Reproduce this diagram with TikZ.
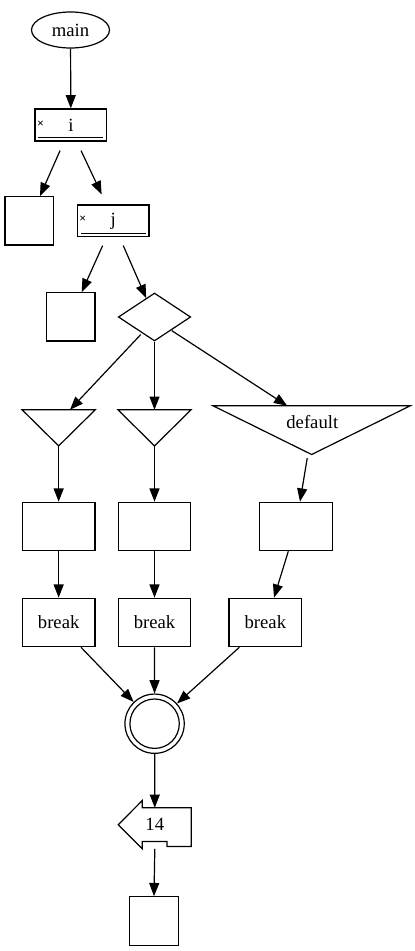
\documentclass[tikz,border=0pt]{standalone}
\usepackage{fontspec}
\setmainfont{Liberation Serif}
\usetikzlibrary{arrows.meta,shapes.geometric}
\tikzset{
  kante/.style={-{Triangle[length=13.3pt,width=10pt]},line width=1.2pt},
  kasten/.style={draw,rectangle,line width=1.2pt,inner sep=0pt,minimum width=72.7pt,minimum height=48.4pt},
  quadrat/.style={kasten,minimum width=48.3pt,minimum height=48.3pt},
  schleife/.style={kasten,minimum width=71.7pt,minimum height=32pt},
  raute/.style={draw,diamond,line width=1.2pt,inner sep=0pt,minimum width=72.4pt,minimum height=48pt},
  leer/.style={rectangle,inner sep=0pt,minimum width=72.7pt,minimum height=35.7pt},
  linie/.style={line width=1.2pt,line join=miter},
  marke/.style={font=\fontsize{12}{12}\selectfont\bfseries,inner sep=0pt},
}

\begin{document}
\begin{tikzpicture}[x=1pt,y=-1pt,font=\fontsize{18.67}{22.4}\selectfont]
  \useasboundingbox (0,0) rectangle (415,951);
  \node[draw,ellipse,line width=1.2pt,inner sep=0pt,minimum width=78pt,minimum height=36pt] (main) at (70.5,30) {main};
  \node[schleife] (i) at (70.85,125) {i};
  \node[marke] (ix) at (40.5,124) {×};
  \draw[linie] ([shift={(3.3pt,4.3pt)}]i.south west) -- ([shift={(-4pt,4.3pt)}]i.south east);
  \node[quadrat] (b1) at (29.2,220.85) {};
  \node[schleife,minimum height=31.7pt] (j) at (113.15,220.85) {j};
  \node[marke] (jx) at (82.8,219) {×};
  \draw[linie] ([shift={(4.4pt,4pt)}]j.south west) -- ([shift={(-3.3pt,4pt)}]j.south east);
  \node[quadrat] (b2) at (70.8,316.85) {};
  \node[raute] (d) at (154.5,317) {};
  \node[leer] (t1) at (58.65,427.85) {};
  \node[leer] (t2) at (154.5,427.85) {};
  \node[leer,minimum width=196.7pt,minimum height=48.3pt] (t3) at (311.65,430.15) {};
  \foreach \t in {t1,t2,t3}
    \draw[linie] (\t.north west) -- (\t.north east) -- (\t.south) -- cycle;
  \node[inner sep=0pt] (t3txt) at (312.3,422.3) {default};
  \node[kasten] (r1) at (58.65,526.5) {};
  \node[kasten] (r2) at (154.5,526.5) {};
  \node[kasten] (r3) at (296.15,526.5) {};
  \node[kasten] (k1) at (58.65,622.5) {break};
  \node[kasten] (k2) at (154.5,622.5) {break};
  \node[kasten] (k3) at (265.35,622.5) {break};
  \node[draw,circle,line width=1.2pt,inner sep=0pt,minimum size=59.3pt] (c) at (154.6,723.7) {};
  \draw[linie] (c.center) circle[radius=24.7];
  \node[rectangle,inner sep=0pt,minimum width=72.6pt,minimum height=48pt] (p) at (154.8,824.7) {14};
  \draw[linie] (p.west) -- ([xshift=24pt]p.north west) -- ([shift={(24pt,-7.3pt)}]p.north west)
    -- ([yshift=-7.3pt]p.north east) -- ([yshift=2.4pt]p.south east) -- ([shift={(-24.3pt,2.4pt)}]p.south east)
    -- ([shift={(-24.3pt,7.4pt)}]p.south east) -- ([shift={(24pt,7.4pt)}]p.south west)
    -- ([xshift=24pt]p.south west) -- cycle;
  \node[quadrat] (e) at (154,921) {};

  \draw[kante] (main) -- (i);
  \draw[kante] ([shift={(-10.8pt,-9pt)}]i.south) -- ([xshift=10.8pt]b1.north);
  \draw[kante] ([shift={(10.2pt,-9pt)}]i.south) -- ([shift={(-11.5pt,10pt)}]j.north);
  \draw[kante] ([shift={(-10.5pt,-8.3pt)}]j.south) -- ([xshift=10.9pt]b2.north);
  \draw[kante] ([shift={(10.1pt,-8.3pt)}]j.south) -- (d);
  \draw[kante] ([shift={(-13.8pt,7pt)}]d.south) -- ([xshift=11.3pt]t1.north);
  \draw[kante] (d.south) -- (t2.north);
  \draw[kante] ([shift={(17.2pt,11pt)}]d.south) -- ([xshift=-24.4pt]t3.north);
  \draw[kante] (t1.south) -- (r1.north);
  \draw[kante] (t2.south) -- (r2.north);
  \draw[kante] ([shift={(-4.4pt,-3.5pt)}]t3.south) -- ([xshift=3.85pt]r3.north);
  \draw[kante] (r1) -- (k1);
  \draw[kante] (r2) -- (k2);
  \draw[kante] ([xshift=-7.85pt]r3.south) -- ([xshift=8.65pt]k3.north);
  \draw[kante] ([xshift=22.35pt]k1.south) -- (c);
  \draw[kante] (k2) -- (c);
  \draw[kante] ([xshift=-26pt]k3.south) -- (c);
  \draw[kante] (c) -- ([yshift=-7.3pt]p.north);
  \draw[kante] (p.south) -- (e.north);
\end{tikzpicture}
\end{document}
